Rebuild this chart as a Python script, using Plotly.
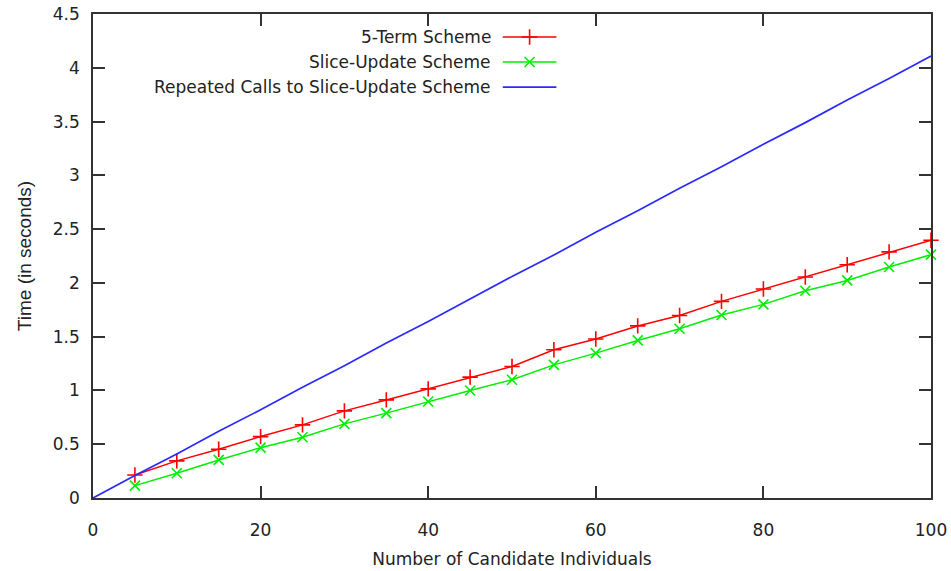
import plotly.graph_objects as go

# Timing results (seconds) versus number of candidate individuals
candidates = [5, 10, 15, 20, 25, 30, 35, 40, 45, 50, 55, 60, 65, 70, 75, 80, 85, 90, 95, 100]
five_term = [0.214, 0.345, 0.453, 0.571, 0.68, 0.81, 0.912, 1.015, 1.124, 1.223,
             1.378, 1.478, 1.60, 1.697, 1.828, 1.943, 2.055, 2.169, 2.288, 2.396]
slice_update = [0.115, 0.23, 0.354, 0.468, 0.565, 0.689, 0.789, 0.897, 0.999, 1.099,
                1.238, 1.347, 1.465, 1.574, 1.701, 1.80, 1.927, 2.023, 2.148, 2.263]
repeated_x = [0, 5, 10, 15, 20, 25, 30, 35, 40, 45, 50, 55, 60, 65, 70, 75, 80, 85, 90, 95, 100]
repeated_calls = [0, 0.21, 0.41, 0.62, 0.82, 1.03, 1.23, 1.44, 1.64, 1.85, 2.06,
                  2.26, 2.47, 2.67, 2.88, 3.08, 3.29, 3.49, 3.70, 3.90, 4.11]

series_names = ["5-Term Scheme", "Slice-Update Scheme", "Repeated Calls to Slice-Update Scheme"]
RED, GREEN, BLUE = "#ff0000", "#00ee00", "#2a2aff"
FONT = "DejaVu Sans"
AXIS = "#333333"

fig = go.Figure()
fig.add_trace(go.Scatter(x=candidates, y=five_term, mode="lines+markers",
                         line=dict(color=RED, width=1.5),
                         marker=dict(symbol="cross-thin", size=11, line=dict(color=RED, width=1.6)),
                         showlegend=False, cliponaxis=False))
fig.add_trace(go.Scatter(x=candidates, y=slice_update, mode="lines+markers",
                         line=dict(color=GREEN, width=1.5),
                         marker=dict(symbol="x-thin", size=10, line=dict(color=GREEN, width=1.6)),
                         showlegend=False, cliponaxis=False))
fig.add_trace(go.Scatter(x=repeated_x, y=repeated_calls, mode="lines",
                         line=dict(color=BLUE, width=1.7), showlegend=False))

# Key drawn in the gnuplot style: right-aligned labels followed by the line sample
key_rows = [0.9525, 0.9008, 0.849]
key_styles = [(RED, "cross-thin", 11), (GREEN, "x-thin", 10), (BLUE, None, 0)]
for name, yk, (col, sym, sz) in zip(series_names, key_rows, key_styles):
    fig.add_annotation(x=0.477, y=yk, xref="paper", yref="paper", text=name,
                       showarrow=False, xanchor="right", yanchor="middle",
                       font=dict(family=FONT, size=17, color="#222"))
    fig.add_trace(go.Scatter(x=[0.489, 0.553], y=[yk, yk], xaxis="x2", yaxis="y2",
                             mode="lines", line=dict(color=col, width=1.6),
                             showlegend=False, hoverinfo="skip"))
    if sym:
        fig.add_trace(go.Scatter(x=[0.521], y=[yk], xaxis="x2", yaxis="y2", mode="markers",
                                 marker=dict(symbol=sym, size=sz, line=dict(color=col, width=1.6)),
                                 showlegend=False, hoverinfo="skip"))

fig.update_layout(
    width=951, height=571,
    margin=dict(l=93, r=20, t=14, b=73, autoexpand=False),
    plot_bgcolor="white", paper_bgcolor="white",
    font=dict(family=FONT, size=17, color="#222"),
    xaxis=dict(range=[0, 100], tickvals=[0, 20, 40, 60, 80, 100],
               ticks="inside", ticklen=12, tickwidth=1.5, tickcolor=AXIS,
               showline=True, linecolor=AXIS, linewidth=1.5, mirror="ticks",
               showgrid=False, zeroline=False, ticklabelstandoff=16, automargin=False,
               title=dict(text="Number of Candidate Individuals", standoff=14,
                          font=dict(family=FONT, size=17))),
    yaxis=dict(range=[0, 4.5], tickvals=[0, 0.5, 1, 1.5, 2, 2.5, 3, 3.5, 4, 4.5],
               ticktext=["0", "0.5", "1", "1.5", "2", "2.5", "3", "3.5", "4", "4.5"],
               ticks="inside", ticklen=12, tickwidth=1.5, tickcolor=AXIS,
               showline=True, linecolor=AXIS, linewidth=1.5, mirror="ticks",
               showgrid=False, zeroline=False, ticklabelstandoff=8, automargin=False,
               title=dict(text="Time (in seconds)", standoff=16,
                          font=dict(family="Liberation Sans", size=19))),
    xaxis2=dict(overlaying="x", range=[0, 1], visible=False, fixedrange=True),
    yaxis2=dict(overlaying="y", range=[0, 1], visible=False, fixedrange=True),
)

fig.write_html("out.html")
